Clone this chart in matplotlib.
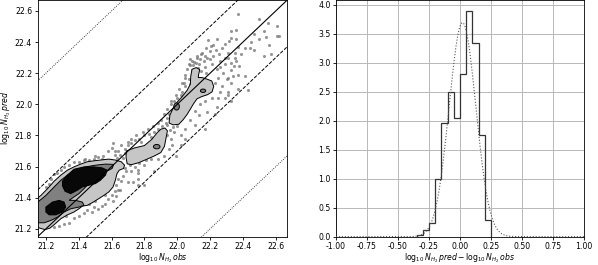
import numpy as np
import matplotlib
matplotlib.use("Agg")
import matplotlib.pyplot as plt
from matplotlib.patches import Ellipse

plt.rcParams['font.size'] = 5.6
plt.rcParams['axes.linewidth'] = 0.6
plt.rcParams['xtick.major.width'] = 0.6
plt.rcParams['ytick.major.width'] = 0.6
plt.rcParams['xtick.major.size'] = 2.5
plt.rcParams['ytick.major.size'] = 2.5
plt.rcParams['xtick.major.pad'] = 1.5
plt.rcParams['ytick.major.pad'] = 1.5

# scatter of individual points (log10 N_H2 obs, log10 N_H2 pred)
obs = [22.37, 22.50, 22.55, 22.61, 22.61, 22.53, 22.47, 22.54, 22.41, 22.44, 22.37, 22.33, 22.36,
       22.31, 22.35, 22.31, 22.35, 22.53, 22.57, 22.47,
       22.19, 22.24, 22.22, 22.27, 22.20, 22.17, 22.14, 22.16, 22.12, 22.09, 22.13, 22.17, 22.21,
       22.24, 22.26, 22.29, 22.33, 22.37, 22.31, 22.25, 22.23, 22.27, 22.31, 22.29, 22.33, 22.37,
       22.41, 22.25, 22.21, 22.17, 22.14, 22.11, 22.13, 22.18, 22.24, 22.33, 22.08, 22.05, 22.02,
       22.11, 22.17, 22.23, 22.31, 22.43,
       22.126, 22.147, 22.177, 22.096, 22.116, 22.147, 22.177, 22.207, 22.237, 22.257, 22.288,
       22.328, 22.348, 22.378, 22.288, 22.318, 22.328, 22.358,
       22.05, 22.07, 22.08, 22.05, 22.03, 22.02, 22.00, 21.98, 21.96, 21.97, 21.95, 21.94, 21.93,
       22.06, 22.09, 22.11, 22.07, 22.08, 22.04,
       21.91, 21.88, 21.86, 21.83, 21.80, 21.77, 21.74, 21.72, 21.70, 21.78, 21.84, 21.94, 21.96,
       21.97, 21.95, 21.92, 21.88, 21.84, 21.81, 21.77, 21.74, 21.71, 21.76, 21.80, 21.86, 22.02,
       22.05, 21.99, 21.935, 21.955, 21.905, 21.975,
       21.66, 21.68, 21.64, 21.61, 21.58, 21.55, 21.52, 21.49, 21.46, 21.43, 21.40, 21.37, 21.34,
       21.31, 21.29, 21.27, 21.25, 21.23, 21.22, 21.20, 21.44, 21.50, 21.54,
       21.653, 21.633, 21.667, 21.683, 21.623,
       21.68, 21.69, 21.67, 21.66, 21.64, 21.63, 21.65, 21.62, 21.60, 21.61, 21.58, 21.56, 21.54,
       21.52, 21.49, 21.48, 21.45, 21.43, 21.40, 21.37, 21.34, 21.31, 21.28, 21.25, 21.22, 21.32,
       21.71, 21.72, 21.74, 21.76, 21.73, 21.78, 21.76, 21.80, 21.70, 21.64, 21.63, 21.76,
       21.60, 21.62, 21.70, 21.72, 21.75, 21.79, 21.82, 21.85, 21.88, 21.90, 21.92, 21.94, 21.96,
       21.99, 22.01, 22.03, 22.05, 22.08, 22.10, 22.12, 22.15, 22.18, 22.20, 22.22, 22.26, 22.28,
       22.30, 22.34, 22.36, 22.39, 22.45, 22.50, 22.56, 22.62, 21.84, 21.88, 21.98, 22.00, 22.08,
       22.12, 22.20, 22.26, 21.58, 21.56, 21.50, 21.46]
pred = [22.58, 22.55, 22.52, 22.50, 22.44, 22.47, 22.45, 22.43, 22.36, 22.36, 22.37, 22.47, 22.48,
        22.33, 22.30, 22.30, 22.33, 22.31, 22.32, 22.35,
        22.41, 22.42, 22.38, 22.36, 22.34, 22.31, 22.29, 22.28, 22.31, 22.28, 22.26, 22.24, 22.26,
        22.23, 22.28, 22.26, 22.22, 22.19, 22.17, 22.17, 22.14, 22.12, 22.08, 22.04, 22.14, 22.10,
        22.18, 22.04, 22.04, 22.02, 22.00, 21.96, 21.93, 21.95, 21.98, 22.02, 21.90, 21.84, 21.80,
        21.87, 21.84, 21.94, 22.06, 22.09,
        22.234, 22.212, 22.202, 22.255, 22.266, 22.320, 22.363, 22.374, 22.352, 22.320, 22.298,
        22.266, 22.245, 22.245, 22.385, 22.406, 22.428, 22.417,
        22.19, 22.16, 22.13, 22.12, 22.08, 22.06, 22.04, 22.02, 22.00, 21.96, 21.94, 21.91, 21.88,
        22.23, 22.22, 22.20, 22.26, 22.29, 22.14,
        21.86, 21.84, 21.82, 21.81, 21.80, 21.78, 21.77, 21.75, 21.74, 21.76, 21.79, 21.80, 21.78,
        21.74, 21.71, 21.67, 21.65, 21.65, 21.64, 21.62, 21.60, 21.61, 21.58, 21.61, 21.57, 21.74,
        21.78, 21.67, 21.868, 21.835, 21.814, 21.857,
        21.74, 21.71, 21.70, 21.75, 21.70, 21.67, 21.66, 21.65, 21.64, 21.64, 21.63, 21.63, 21.61,
        21.60, 21.58, 21.56, 21.55, 21.52, 21.49, 21.47, 21.65, 21.67, 21.65,
        21.674, 21.652, 21.657, 21.685, 21.674,
        21.59, 21.57, 21.54, 21.51, 21.52, 21.48, 21.45, 21.44, 21.42, 21.38, 21.39, 21.36, 21.35,
        21.33, 21.34, 21.31, 21.32, 21.30, 21.28, 21.27, 21.24, 21.23, 21.22, 21.21, 21.22, 21.28,
        21.65, 21.57, 21.63, 21.52, 21.50, 21.67, 21.48, 21.48, 21.50, 21.45, 21.41, 21.56,
        21.72, 21.70, 21.76, 21.78, 21.80, 21.82, 21.84, 21.86, 21.88, 21.90, 21.94, 21.97, 22.02,
        22.06, 22.10, 22.14, 22.17, 22.25, 22.27, 22.30, 22.33, 22.30, 22.29, 22.31, 22.24, 22.20,
        22.16, 22.18, 22.28, 22.32, 22.40, 22.42, 22.38, 22.44, 21.70, 21.72, 21.82, 21.86, 22.00,
        22.06, 22.10, 22.08, 21.48, 21.42, 21.38, 21.36]

# density contour outlines (obs, pred)
light_blob_x = [21.146, 21.170, 21.210, 21.250, 21.291, 21.331, 21.371, 21.412, 21.452, 21.492, 21.532,
                21.583, 21.623, 21.659, 21.679, 21.673, 21.647, 21.633, 21.623, 21.609, 21.583, 21.553,
                21.522, 21.482, 21.452, 21.422, 21.401, 21.371, 21.331, 21.291, 21.256, 21.225, 21.195,
                21.146]
light_blob_y = [21.394, 21.415, 21.458, 21.506, 21.545, 21.577, 21.598, 21.616, 21.631, 21.637, 21.642,
                21.648, 21.642, 21.631, 21.609, 21.588, 21.577, 21.555, 21.512, 21.469, 21.437, 21.415,
                21.394, 21.368, 21.351, 21.346, 21.329, 21.308, 21.290, 21.265, 21.232, 21.205, 21.195,
                21.210]
mid_blob_x = [21.146, 21.200, 21.250, 21.291, 21.331, 21.381, 21.442, 21.502, 21.563, 21.613, 21.603,
              21.563, 21.522, 21.482, 21.462, 21.432, 21.401, 21.371, 21.341, 21.381, 21.422, 21.432,
              21.401, 21.351, 21.311, 21.271, 21.230, 21.190, 21.146]
mid_blob_y = [21.368, 21.415, 21.469, 21.512, 21.545, 21.577, 21.598, 21.609, 21.616, 21.614, 21.588,
              21.566, 21.545, 21.523, 21.491, 21.458, 21.426, 21.405, 21.383, 21.383, 21.372, 21.351,
              21.340, 21.329, 21.308, 21.275, 21.254, 21.239, 21.239]
dark_big_x = [21.301, 21.331, 21.371, 21.432, 21.492, 21.542, 21.573, 21.563, 21.532, 21.502, 21.462,
              21.422, 21.391, 21.351, 21.317, 21.301]
dark_big_y = [21.506, 21.545, 21.583, 21.598, 21.598, 21.592, 21.577, 21.545, 21.512, 21.491, 21.480,
              21.469, 21.448, 21.426, 21.441, 21.476]
dark_small_x = [21.200, 21.240, 21.281, 21.311, 21.321, 21.301, 21.260, 21.220, 21.200]
dark_small_y = [21.340, 21.372, 21.383, 21.372, 21.340, 21.308, 21.290, 21.290, 21.308]
island_b_x = [21.690, 21.740, 21.800, 21.845, 21.878, 21.900, 21.925, 21.940, 21.932, 21.922, 21.900,
              21.860, 21.810, 21.765, 21.720, 21.695, 21.688]
island_b_y = [21.700, 21.720, 21.735, 21.775, 21.818, 21.840, 21.848, 21.830, 21.785, 21.730, 21.690,
              21.668, 21.645, 21.625, 21.612, 21.618, 21.660]
island_c_x = [21.950, 21.955, 21.975, 22.000, 22.030, 22.060, 22.080, 22.082, 22.090, 22.116, 22.137,
              22.130, 22.128, 22.150, 22.180, 22.210, 22.222, 22.212, 22.185, 22.150, 22.120, 22.100,
              22.080, 22.060, 22.035, 22.010, 21.975]
island_c_y = [21.880, 21.930, 21.975, 22.015, 22.050, 22.090, 22.130, 22.180, 22.225, 22.236, 22.223,
              22.191, 22.172, 22.172, 22.162, 22.150, 22.115, 22.080, 22.062, 22.050, 22.035, 22.005,
              21.970, 21.935, 21.900, 21.872, 21.868]
# small inner contours: centre x, centre y, width, height
ovals = [(21.875, 21.728, 0.040, 0.028),
         (21.996, 21.986, 0.034, 0.046),
         (22.157, 22.087, 0.032, 0.022)]

# histogram of residuals
bin_edges = [-0.35, -0.30, -0.25, -0.20, -0.15, -0.10, -0.05, 0.0, 0.05, 0.10, 0.15, 0.20, 0.25]
bin_heights = [0.035, 0.115, 0.23, 1.0, 1.97, 2.5, 2.04, 2.8, 3.89, 3.35, 1.75, 0.28]
fit_mu = 0.02
fit_sigma = 0.108

lim = (21.15, 22.67)

fig = plt.figure(figsize=(5.98, 2.65), dpi=100)
ax1 = fig.add_axes([0.063, 0.107, 0.4174, 0.893])
ax2 = fig.add_axes([0.5619, 0.107, 0.4147, 0.893])

ax1.scatter(obs, pred, s=5, color='0.45', alpha=0.75, linewidths=0, zorder=1)

edge = dict(edgecolor='black', linewidth=0.7, zorder=2)
ax1.fill(light_blob_x, light_blob_y, facecolor='#c6c6c6', **edge)
ax1.fill(island_b_x, island_b_y, facecolor='#c6c6c6', **edge)
ax1.fill(island_c_x, island_c_y, facecolor='#c6c6c6', **edge)
ax1.fill(mid_blob_x, mid_blob_y, facecolor='#808080', **edge)
ax1.fill(dark_big_x, dark_big_y, facecolor='#080808', **edge)
ax1.fill(dark_small_x, dark_small_y, facecolor='#080808', **edge)
for cx, cy, w, h in ovals:
    ax1.add_patch(Ellipse((cx, cy), w, h, facecolor='#808080', **edge))

xx = np.array(lim)
ax1.plot(xx, xx, 'k-', lw=0.8, zorder=3)
ax1.plot(xx, xx + 0.3, 'k--', lw=0.7, zorder=3)
ax1.plot(xx, xx - 0.3, 'k--', lw=0.7, zorder=3)
ax1.plot(xx, xx + 1.0, 'k:', lw=0.6, zorder=3)
ax1.plot(xx, xx - 1.0, 'k:', lw=0.6, zorder=3)
ax1.set_xlim(lim)
ax1.set_ylim(lim)
ax1.set_xticks(np.arange(21.2, 22.61, 0.2))
ax1.set_yticks(np.arange(21.2, 22.61, 0.2))
ax1.set_xlabel(r'$\log_{10}N_{H_2}\,obs$', labelpad=0)
ax1.set_ylabel(r'$\log_{10}N_{H_2}\,pred$', labelpad=1)

ax2.stairs(bin_heights, bin_edges, color='#333333', lw=0.9, zorder=3)
g = np.linspace(-1, 1, 400)
ax2.plot(g, np.exp(-(g - fit_mu) ** 2 / (2 * fit_sigma ** 2)) / (fit_sigma * np.sqrt(2 * np.pi)),
         color='#555555', ls=':', lw=0.8, zorder=3)
ax2.set_xlim(-1, 1)
ax2.set_ylim(0, 4.085)
ax2.set_xticks(np.arange(-1, 1.01, 0.25))
ax2.set_yticks(np.arange(0, 4.01, 0.5))
ax2.xaxis.set_major_formatter(plt.FormatStrFormatter('%.2f'))
ax2.yaxis.set_major_formatter(plt.FormatStrFormatter('%.1f'))
ax2.grid(True, color='#b8b8b8', lw=0.7)
ax2.set_axisbelow(True)
ax2.set_xlabel(r'$\log_{10}N_{H_2}\,pred - \log_{10}N_{H_2}\,obs$', labelpad=0)

fig.savefig('out.png', dpi=100)
